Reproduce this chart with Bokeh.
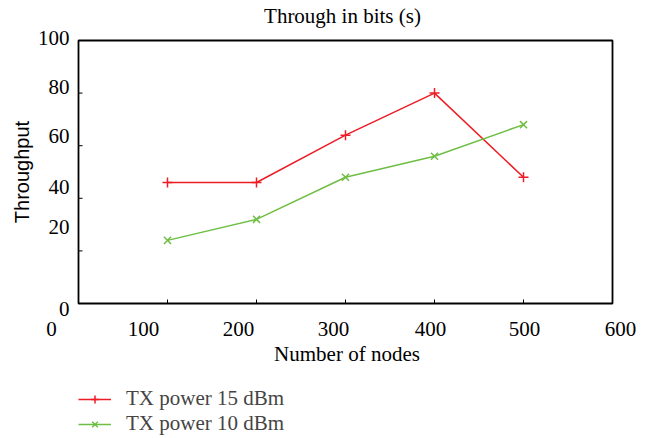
import math
from bokeh.plotting import figure
from bokeh.models import Legend, LegendItem, Range1d, ColumnDataSource
from bokeh.core.properties import value
from bokeh.embed import file_html
from bokeh.resources import INLINE

# ---- data ----
nodes = [100, 200, 300, 400, 500]
tx15 = [46, 46, 64, 80, 48]
tx10 = [24, 32, 48, 56, 68]
x_ticks = [0, 100, 200, 300, 400, 500, 600]
x_tick_labels = ["0", "100", "200", "300", "400", "500", "600"]
y_ticks = [0, 20, 40, 60, 80, 100]
y_tick_labels = ["0", "20", "40", "60", "80", "100"]
x_min, x_max = 0, 600
y_min, y_max = 0, 100
title_text = "Through in bits (s)"
x_title = "Number of nodes"
y_title = "Throughput"
series_names = ["TX power 15 dBm", "TX power 10 dBm"]

# ---- style / layout ----
RED = "#ee1c25"
GREEN = "#6fbe44"
SERIF = "Liberation Serif"
SANS = "Liberation Sans"
x_label_dx = [-27, -24, -18, -12, -4, 1, 8]
y_label_dy = [5, -23.7, -11, -10, -6, -2.3]

W, H = 653, 438
# screen placement of the plotting box
BOX_L, BOX_R, BOX_T, BOX_B = 78, 612, 40, 303
sx = (BOX_R - BOX_L) / (x_max - x_min)
sy = (BOX_B - BOX_T) / (y_max - y_min)
xr = Range1d(x_min - BOX_L / sx, x_max + (W - BOX_R) / sx)
yr = Range1d(y_min - (H - BOX_B) / sy, y_max + BOX_T / sy)

p = figure(width=W, height=H, output_backend="svg", toolbar_location=None,
           x_range=xr, y_range=yr, min_border=0)
p.grid.visible = False
p.xaxis.visible = False
p.yaxis.visible = False
p.outline_line_color = None
p.background_fill_color = "white"
p.border_fill_color = "white"

# plot box
p.quad(left=[x_min], right=[x_max], bottom=[y_min], top=[y_max],
       fill_color=None, line_color="black", line_width=1.8)
# inner tick marks
p.ray(x=x_ticks[1:-1], y=[y_min] * (len(x_ticks) - 2), length=4, length_units="screen",
      angle=math.pi / 2, line_color="black", line_width=1)
p.ray(x=[x_min] * (len(y_ticks) - 2), y=y_ticks[1:-1], length=4, length_units="screen",
      angle=0, line_color="black", line_width=1)

# series
r1l = p.line(nodes, tx15, line_color=RED, line_width=1.5)
r1m = p.scatter(nodes, tx15, marker="cross", size=10, line_color=RED, line_width=1.5)
r2l = p.line(nodes, tx10, line_color=GREEN, line_width=1.5)
r2m = p.scatter(nodes, tx10, marker="x", size=10, line_color=GREEN, line_width=1.5)

# tick labels
xsrc = ColumnDataSource(dict(x=x_ticks, y=[y_min] * len(x_ticks), t=x_tick_labels,
                             dx=x_label_dx, dy=[25] * len(x_ticks)))
p.text(x="x", y="y", text="t", x_offset="dx", y_offset="dy", source=xsrc,
       text_align="center", text_baseline="middle",
       text_font=value(SERIF), text_font_size="21px", text_color="black")
ysrc = ColumnDataSource(dict(x=[x_min] * len(y_ticks), y=y_ticks, t=y_tick_labels,
                             dy=y_label_dy))
p.text(x="x", y="y", text="t", x_offset=-9, y_offset="dy", source=ysrc,
       text_align="right", text_baseline="middle",
       text_font=value(SERIF), text_font_size="21px", text_color="black")

# titles
p.text(x=[(x_min + x_max) / 2], y=[y_max], text=[title_text], x_offset=-3, y_offset=-25,
       text_align="center", text_baseline="middle",
       text_font=value(SERIF), text_font_size="21px", text_color="black")
p.text(x=[(x_min + x_max) / 2], y=[y_min], text=[x_title], x_offset=1.5, y_offset=50,
       text_align="center", text_baseline="middle",
       text_font=value(SERIF), text_font_size="21px", text_color="black")
p.text(x=[x_min], y=[(y_min + y_max) / 2], text=[y_title], x_offset=-57, y_offset=0,
       angle=math.pi / 2, text_align="center", text_baseline="middle",
       text_font=value(SANS), text_font_size="20px", text_color="black")

legend = Legend(items=[LegendItem(label=series_names[0], renderers=[r1l, r1m]),
                       LegendItem(label=series_names[1], renderers=[r2l, r2m])],
                location=(78, 2), padding=0, margin=0, spacing=-3,
                glyph_width=33, glyph_height=20, label_height=20,
                label_standoff=15, border_line_color=None,
                background_fill_alpha=0,
                label_text_font=SERIF, label_text_font_size="21px",
                label_text_baseline="middle")
p.add_layout(legend, "center")

open("out.html", "w").write(file_html(p, INLINE))
